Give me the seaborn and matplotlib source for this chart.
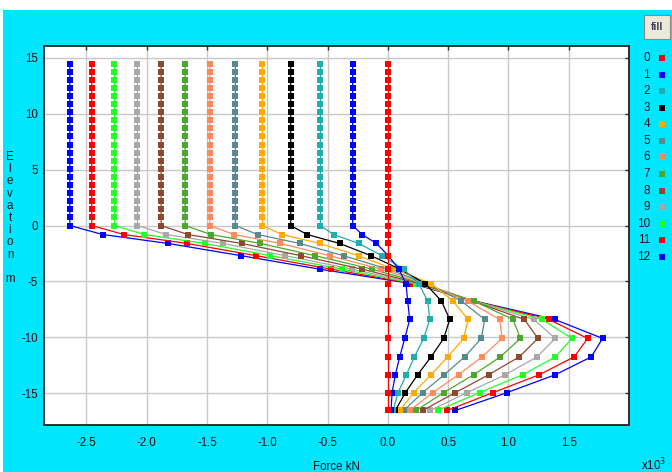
import matplotlib
matplotlib.use("Agg")
import matplotlib.pyplot as plt
import numpy as np
import pandas as pd
import seaborn as sns
from matplotlib.lines import Line2D
from matplotlib.patches import Rectangle

# Node elevations (m): free length above ground, then embedded part
elev_above = [14.5, 13.775, 13.05, 12.325, 11.6, 10.875, 10.15, 9.425, 8.7,
              7.975, 7.25, 6.525, 5.8, 5.075, 4.35, 3.625, 2.9, 2.175, 1.45, 0.725]
elev_below = [0.0, -0.8, -1.6, -2.7, -3.9, -5.2, -6.75, -8.4, -10.1,
              -11.75, -13.35, -14.95, -16.55]

cases = ["0", "1", "2", "3", "4", "5", "6", "7", "8", "9", "10", "11", "12"]

# Axial force (kN) at the embedded nodes; the value at elevation 0 holds up to the head
force_0 = [0, 0, 0, 0, 0, 0, 0, 0, 0, 0, 0, 0, 0]
force_1 = [-292, -214, -95, 5, 90, 150, 164, 181, 140, 98, 62, 35, 26]
force_2 = [-560, -450, -242, -48, 130, 256, 330, 347, 297, 220, 153, 84, 43]
force_3 = [-806, -670, -400, -139, 100, 311, 444, 513, 463, 358, 247, 145, 62]
force_4 = [-1041, -877, -565, -242, 50, 361, 540, 665, 629, 496, 358, 214, 98]
force_5 = [-1265, -1080, -731, -367, 0, 330, 609, 803, 775, 637, 468, 289, 131]
force_6 = [-1478, -1277, -891, -483, -56, 310, 662, 927, 947, 781, 587, 372, 181]
force_7 = [-1682, -1468, -1057, -601, -131, 290, 712, 1038, 1099, 933, 712, 463, 234]
force_8 = [-1881, -1660, -1212, -720, -214, 270, 700, 1132, 1245, 1090, 836, 560, 289]
force_9 = [-2077, -1839, -1367, -850, -297, 250, 705, 1209, 1389, 1237, 974, 656, 352]
force_10 = [-2268, -2019, -1521, -974, -380, 230, 710, 1278, 1527, 1389, 1118, 761, 413]
force_11 = [-2456, -2190, -1665, -1090, -471, 210, 712, 1334, 1657, 1546, 1256, 872, 491]
force_12 = [-2638, -2365, -1823, -1215, -566, 200, 718, 1383, 1781, 1687, 1389, 988, 560]

case_colors = ["#ff0000", "#0000ff", "#1fadad", "#000000", "#ffaa00", "#568a8e",
               "#ff8a5e", "#4ca82c", "#8b4a30", "#a8a8a8", "#22ff22", "#ff0000", "#0000ff"]

forces = [force_0, force_1, force_2, force_3, force_4, force_5, force_6,
          force_7, force_8, force_9, force_10, force_11, force_12]

rows = []
for case, f in zip(cases, forces):
    values = [f[0]] * len(elev_above) + f
    elevs = elev_above + elev_below
    for k, (v, z) in enumerate(zip(values, elevs)):
        rows.append({"case": case, "node": k, "force": v / 1000.0, "elev": z})
df = pd.DataFrame(rows)

sns.set_theme(style="white")
plt.rcParams["font.family"] = ["Liberation Sans", "DejaVu Sans"]

W, H = 672, 472
fig = plt.figure(figsize=(W / 100, H / 100), dpi=100, facecolor="#00e6ff")
fig.patches.append(Rectangle((0, 1 - 10 / H), 1, 10 / H, transform=fig.transFigure,
                             facecolor="white", edgecolor="none", zorder=0))
fig.patches.append(Rectangle((0, 0), 3 / W, 1, transform=fig.transFigure,
                             facecolor="white", edgecolor="none", zorder=0))

left, right, top, bottom = 43.7, 629.0, 45.7, 425.0
ax = fig.add_axes([left / W, 1 - bottom / H, (right - left) / W, (bottom - top) / H])
ax.set_facecolor("white")

palette = dict(zip(cases, case_colors))
sns.lineplot(data=df, x="force", y="elev", hue="case", hue_order=cases[::-1],
             palette=palette, sort=False, estimator=None, units="case",
             marker="s", markersize=4.4, markeredgewidth=0, linewidth=0.9,
             legend=False, ax=ax)

ax.set_xlim(-2.855, 2.0)
ax.set_ylim(-17.85, 16.1)
ax.set_xticks([-2.5, -2.0, -1.5, -1.0, -0.5, 0.0, 0.5, 1.0, 1.5])
ax.set_xticklabels(["-2.5", "-2.0", "-1.5", "-1.0", "-0.5", "0.0", "0.5", "1.0", "1.5"])
ax.set_yticks([-15, -10, -5, 0, 5, 10, 15])
ax.set_yticklabels(["-15", "-10", "-5", "0", "5", "10", "15"])
ax.grid(True, color="#c8c8c8", linewidth=1.0)
ax.set_axisbelow(True)
ax.tick_params(direction="in", length=3, width=1, color="#333333",
               top=True, right=True, labelsize=8.3, labelcolor="#111111")
ax.tick_params(axis="x", pad=9)
ax.tick_params(axis="y", pad=4)
for s in ax.spines.values():
    s.set_color("#222222")
    s.set_linewidth(1.3)

ax.set_xlabel("Force kN", fontsize=8.3, color="#111111", va="center")
ax.xaxis.set_label_coords(0.5, (bottom - 467) / (bottom - top))
ax.set_ylabel("E\nl\ne\nv\na\nt\ni\no\nn\n\nm", rotation=0, fontsize=8.3,
              color="#111111", va="center", ha="center", linespacing=1.02)
ax.yaxis.set_label_coords((10 - left) / (right - left), (bottom - 218) / (bottom - top))

fig.text(654 / W, 1 - 465 / H, r"x10$^3$", ha="center", va="center",
         fontsize=8.3, color="#111111")

# "fill" button
fig.patches.append(Rectangle((644 / W, 1 - 39 / H), 26 / W, 24 / H,
                             transform=fig.transFigure, facecolor="#ece9d8",
                             edgecolor="#8a8a80", linewidth=0.8, zorder=2))
fig.text(657 / W, 1 - 27 / H, "fill", ha="center", va="center", fontsize=7.5,
         color="#3a3a5a", fontweight="bold", zorder=3)

# case legend
for i, (case, col) in enumerate(zip(cases, case_colors)):
    y = 1 - (58.3 + 16.53 * i) / H
    fig.text(650 / W, y, case, ha="right", va="center", fontsize=8.5, color="#111111")
    fig.add_artist(Line2D([662 / W], [y], transform=fig.transFigure, marker="s",
                          markersize=4, markeredgewidth=0, color=col, linestyle="none"))

fig.savefig("out.png", dpi=100, facecolor=fig.get_facecolor())
